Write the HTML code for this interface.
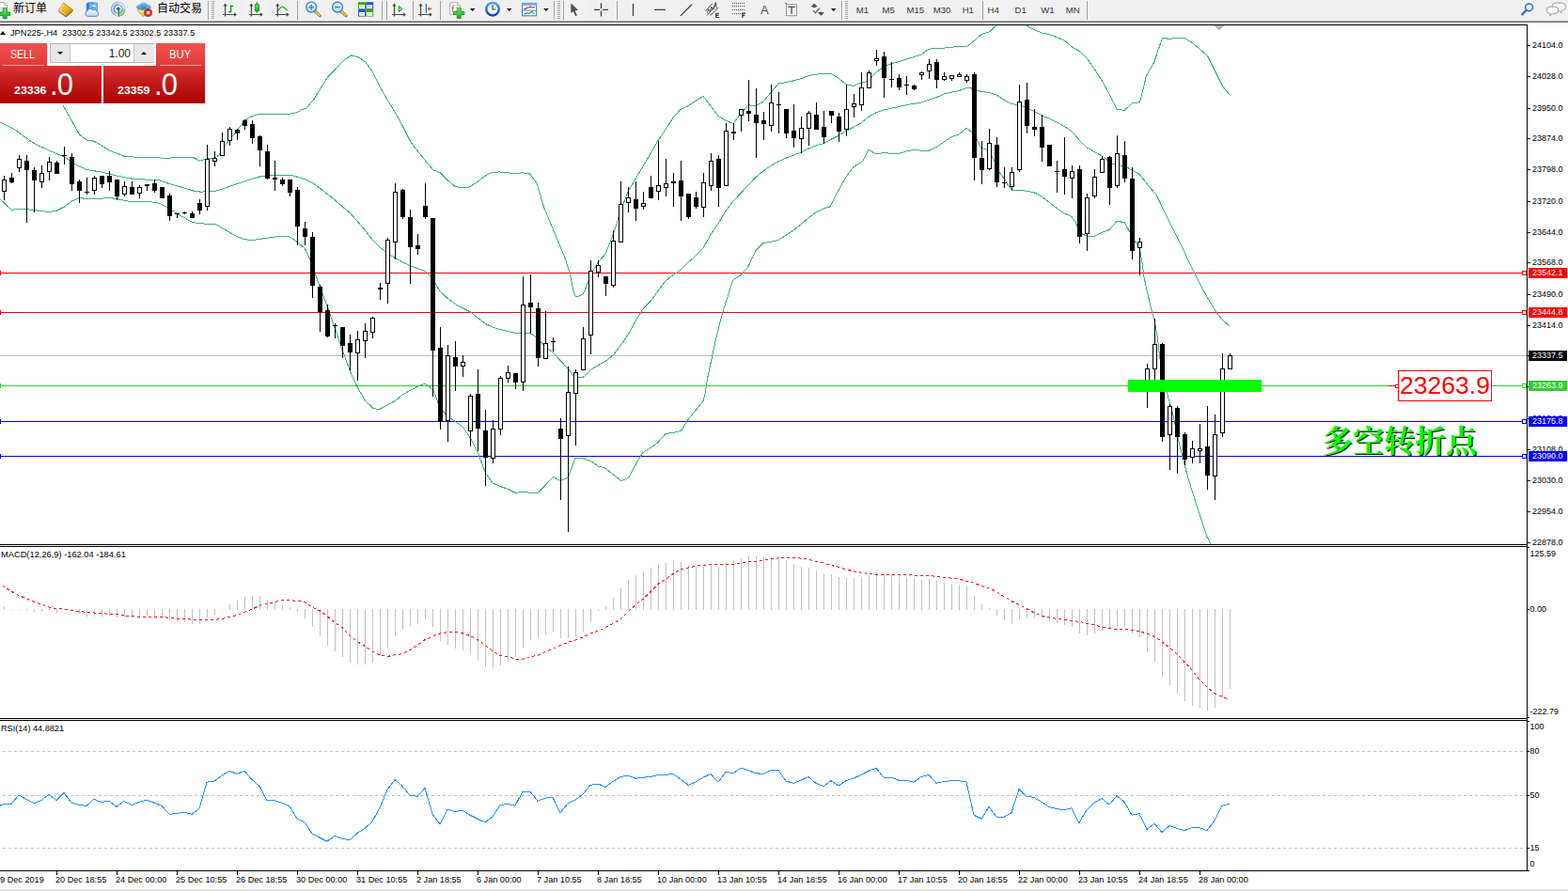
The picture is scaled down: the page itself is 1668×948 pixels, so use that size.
<!DOCTYPE html><html><head><meta charset="utf-8"><title>JPN225 H4</title><style>
html,body{margin:0;padding:0}
body{width:1668px;height:948px;overflow:hidden;background:#fff;position:relative;font-family:"Liberation Sans",sans-serif;font-size:9px;color:#000}
.a{position:absolute;white-space:nowrap;line-height:1}
.ax{position:absolute;left:1630px;font-size:9px;line-height:11px;height:11px;white-space:nowrap}
.pl{position:absolute;left:1626px;width:41px;height:11px;font-size:9px;line-height:11px;color:#fff;white-space:nowrap;text-indent:4px}
.tl{position:absolute;top:931px;font-size:9.15px;line-height:11px;white-space:nowrap}
.tf{position:absolute;top:6px;font-size:9.6px;line-height:10px;color:#333;white-space:nowrap}
#tb{position:absolute;left:0;top:0;width:1668px;height:22px;background:#f0f0f0}
.sep{position:absolute;top:2px;width:1px;height:19px;background:#a0a0a0;box-shadow:1px 0 0 #fff}
.grip{position:absolute;top:3px;width:3px;height:17px;background:repeating-linear-gradient(to bottom,#a0a0a0 0,#a0a0a0 1px,transparent 1px,transparent 2px)}
.dd{position:absolute;top:9px;width:0;height:0;border-left:3px solid transparent;border-right:3px solid transparent;border-top:3px solid #000}
.sel{position:absolute;top:0;height:21px;background:#f8f8f8;border:1px solid #d8d8d8;box-sizing:border-box}
</style></head><body>
<svg id="chart" width="1668" height="948" viewBox="0 0 1668 948" style="position:absolute;left:0;top:0" shape-rendering="crispEdges">
<defs><clipPath id="cm"><rect x="0" y="27" width="1624" height="552"/></clipPath><clipPath id="cd"><rect x="0" y="582" width="1624" height="182"/></clipPath><clipPath id="cr"><rect x="0" y="767" width="1624" height="159"/></clipPath></defs>
<g clip-path="url(#cm)">
<path d="M0 378.5H1624" stroke="#c0c0c0" fill="none"/>
<path d="M0 290.5H1624M0 332.5H1624" stroke="#ff0000" fill="none"/>
<path d="M0 410.5H1477M1587 410.5H1624" stroke="#32cd32" fill="none"/>
<path d="M0 448.5H1624M0 485.5H1624" stroke="#0000ff" fill="none"/>
<path d="M67.2 112.2 76.8 129.2 84.5 143.2 92.5 149.1 100.4 150.3 108.6 155.1 116.5 160.2 124.5 163.2 132.5 166.4 146.2 167.3 162.5 167.6 177.3 168.3 192 167.3 205.3 167.3 212.6 171.3 218.6 169.1 228.5 168.3 233.4 164.7 236.4 158.7 244.4 148.4 252.5 138.1 260.5 128.5 266 124.5 274.8 121.5 292.6 121.5 308.8 121.1 316.5 119.6 320 117.1 326.1 115 333.8 105.8 341.4 93.5 349.1 81.3 356.7 73.7 365.9 63.9 373.5 59 381.2 60.8 388.8 66 396.5 76.7 404.1 92 411.8 105.8 419.4 118 427.1 131.8 436.3 150.2 445.5 162.4 453.1 171.6 460.8 180.8 468.4 183.8 476.1 191.5 483.7 198.2 491.4 200 499 199.1 506.7 194.5 514.3 188.4 522 183.8 531.1 182.9 540.3 183.8 548 184.7 555.6 183.8 563.3 184.7 570.9 194.5 578.6 220.5 586.2 238.9 593.9 257.3 601.5 275.6 606.1 290.9 609.2 306.2 612.4 316 616 315 620 313.2 624 304.3 628 293.5 636 279.1 644 270.2 652 250.4 660 225.3 668 203.8 676 190.4 684 176.9 692 163.5 700 149.6 708 137.9 716 125.3 724 116.4 732 112.8 740 107.4 748 102.4 756 112.8 764 123.5 772 128 780 131.6 788 120.9 796 111.9 804 112.4 812 108.3 820 98.4 828 89.1 836 87.7 844 85.9 852 83.7 860 80.5 868 79.1 876 78.7 884 78.3 892 83.2 900 89.8 908 91.3 916 87.9 921.2 87 924 85.7 932 76.8 940 71.4 948 67.8 956 65.7 964 63 972 60.6 980 57.9 988 52.2 996 51.3 1004 51.1 1012 50.2 1020 49.5 1029.3 49 1036.2 43.5 1044.4 36.2 1052.5 33.9 1059.4 27.4 1064 22 1076 18 1088 22 1092.4 27.4 1100 31.6 1108.2 35.1 1116.1 36.7 1124.4 39.7 1132.5 43.2 1140.6 50.2 1148.8 54.8 1156.9 62.9 1165 74.5 1173.1 87.3 1180.1 100 1188.2 116.3 1196.3 117.4 1204.5 109.3 1212.6 108.9 1219.5 80.3 1227.7 66.4 1232.3 52.5 1236.5 40.4 1243.9 41.3 1252 40.4 1260.1 40.4 1268.3 45.5 1275.2 51.3 1284.5 59.4 1292.6 75.7 1300.7 91.9 1307.7 100.7" stroke="#3cb371" fill="none" stroke-width="1"/>
<path d="M0 129.9 14.8 137.3 36.5 152.8 52.4 160.2 68.4 166.9 79.8 175 92.5 180.6 108.6 183.1 124.5 187.1 140.5 190.2 156.6 191.2 169.9 192 180.5 195.7 196.5 200.1 206.8 203.4 214.2 204.2 220.5 203.4 228.5 203.1 232 202.8 244.4 198.3 252.5 195.4 260.5 192.7 268.5 190.2 276.5 188 284.4 186.8 292.6 186.4 300.4 186.4 310.3 186.4 316.5 188.3 324.5 190.9 332.4 194.5 340.6 200.4 348.5 206.8 356.5 213 364.5 220 372.5 226.7 380.4 235.6 388.6 245.5 396.5 255.5 404.5 263.6 412.5 269.5 420.5 274.7 428.5 279.1 436.6 282.8 444.6 285.8 452.5 288.7 458 293.9 463.9 302.9 468.4 310.3 476.4 317.7 484.5 323.6 492.5 328 500.5 332 508.5 338.3 516.4 344.5 524.6 348.4 532.4 350.6 540.4 352.7 548.5 354.3 556.5 354.3 564.4 354.3 572.6 360.5 580.5 369.4 588.5 375.3 596.5 384.1 604.5 392.3 610.2 400.4 616.1 401.9 620.6 401.1 628.5 393.4 636.5 388.6 644.5 384.1 652.5 377.5 660.5 367.1 668.6 355.3 676.6 340.6 684.5 328 692.5 319.9 700 309.6 708 298.9 716 292.6 724 287.2 732 279.1 740 272.3 748 263.9 756 249.6 764 237.9 772 224.4 780 214 788 205.5 796 197 804 188.5 812 182 820 176.5 828 171.8 836 168.2 844 165.4 852 162.1 860 158.2 868 154.9 876 152.6 884 148.3 892 144.2 900 139.3 908 135.2 916 130.9 924 124.3 932 119.8 940 117.1 948 115.3 956 113.5 964 111.7 972 110.3 980 109.1 988 106.4 996 103.7 1004 100.1 1012 98.3 1020 96.5 1028 93.8 1032.4 93.5 1036 95.2 1044 97.4 1052 98.3 1060 101 1068 106.4 1076 110.5 1084 111.7 1092 114.4 1100 118.6 1108 122.5 1116 126.1 1124 129.9 1132 134.4 1140 139.8 1148 148.8 1156 156.9 1164 161.4 1172 165.9 1176.1 168.6 1180 173 1188 175.7 1196 176.3 1204 181.1 1212 185.2 1220 195.5 1229.9 207.1 1236 219.7 1244 235.8 1252 252 1260 268.1 1265.3 280 1270.7 289.9 1276.1 301.5 1284 315.9 1292 329.3 1300 340.1 1307.5 346.7" stroke="#3cb371" fill="none" stroke-width="1"/>
<path d="M0 211.9 12.4 223.4 20.5 222.3 28.5 222.6 36.5 223.7 52.4 225.5 60.6 224 68.4 220 76.4 214.1 84.5 210.4 92.5 211.6 108.6 211.2 116.5 210.4 124.5 211.6 140.5 214.9 156.6 214.4 166.9 215.6 172.5 217.5 180.5 222.3 188.5 227.4 196.5 231.9 204.6 236.3 212.6 237.8 228.5 238.5 232 240 244.4 247.4 252.5 251.8 260.5 254.8 268.5 255.5 276.5 254.3 284.4 253.3 292.6 252.1 300.4 251.1 308.4 252.1 316.5 257.7 324.5 264.4 329.5 275.5 335.4 291.7 340.6 305.7 348.5 327.1 356.5 350 364.5 373.2 372.5 395.4 380.4 412.4 388.6 426.4 396.5 434.1 403.3 435.7 412.5 430.8 420.5 426.4 428.5 419.8 436.6 415.3 444.6 410.9 452.1 408.2 458 412.4 462.4 418.3 465 426 468 434.1 476 443 484 448.4 492 453.8 500 465.5 508 480.7 516 502.2 524 513.9 532 517.5 540 520.2 548 524.3 556 523.4 564.4 524.3 572.5 524.3 580.6 515.7 588.7 507.3 596 511.6 604 508.2 612 487.5 620 487.9 628.1 490.2 636.2 496 643.4 497.8 652.3 504.9 660.8 511.6 668.5 508.5 676.6 493.3 683.7 481.6 692.7 476.2 700 470.5 708.1 461.4 716.1 460.4 724.5 458.4 732.1 446.4 740.2 436.4 748.2 426.3 750.2 418.3 752.2 404.3 755.2 390.3 758.2 376.2 761.2 362.2 764.2 350.2 767.2 338.1 771.2 324.1 775.2 312.1 778.2 302 780.3 297.5 788 292.6 796 283.6 804 266.6 812 258.5 820 257.3 828 255.5 836 250.4 844 245.1 852 238.8 860 232 868 226 876 222 882.8 220 892 202.5 900 188.1 908 177.4 916 172.9 917.6 171.8 924 159.3 932 164.1 940 162.3 948 163.4 956 163.4 964 161.1 972 159.3 980 160.2 988 160.2 996 156.6 1004 151.2 1012 145.8 1020 143.1 1028 136.5 1032.4 139.6 1036 142.2 1039.6 149.4 1044 157.5 1052 159.8 1057.5 170.9 1063.8 184.4 1068 189.8 1071.8 196.1 1076 202.3 1084 202.3 1092 203.2 1100 204.7 1108 209 1116 215.2 1124 221.5 1132 226.9 1140 230.4 1143.8 235.8 1148 244.8 1151.9 249.3 1156 251.1 1164 251.6 1172 247.5 1180 244.4 1188 235.5 1196 236.4 1201.2 245.7 1206.6 255.6 1212 262.7 1215.1 280 1216.9 294.3 1220 308.7 1224.1 326.6 1228 341 1231.3 358.9 1233.9 381.3 1238 400 1241.1 417.2 1244 427 1248.3 443.2 1252 462 1256.4 480 1260 494.3 1263.5 506.9 1268 522.1 1276 547.2 1284 571.4 1287.8 578.6" stroke="#3cb371" fill="none" stroke-width="1"/>
<path d="M4 187h1v26h-1zM2 191h5v13h-5zM12 184h1v11h-1zM10 189h5v5h-5zM20 165h1v18h-1zM18 169h5v10h-5zM28 165h1v72h-1zM26 171h5v10h-5zM36 178h1v48h-1zM34 181h5v11h-5zM44 176h1v24h-1zM42 184h5v10h-5zM52 167h1v25h-1zM50 172h5v11h-5zM60 171h1v14h-1zM58 173h5v12h-5zM68 156h1v19h-1zM66 165h5v1h-5zM76 163h1v40h-1zM74 167h5v29h-5zM84 191h1v25h-1zM82 193h5v10h-5zM92 189h1v18h-1zM90 204h5v1h-5zM100 187h1v20h-1zM98 189h5v14h-5zM108 187h1v13h-1zM106 187h5v9h-5zM116 182h1v21h-1zM114 187h5v7h-5zM124 191h1v22h-1zM122 191h5v18h-5zM132 193h1v16h-1zM130 198h5v9h-5zM140 193h1v14h-1zM138 199h5v8h-5zM148 197h1v14h-1zM146 199h5v7h-5zM156 196h1v7h-1zM154 196h5v2h-5zM164 191h1v14h-1zM162 195h5v8h-5zM172 199h1v12h-1zM170 199h5v12h-5zM180 206h1v29h-1zM178 208h5v22h-5zM188 227h1v5h-1zM186 227h5v1h-5zM196 225h1v3h-1zM194 226h5v1h-5zM204 225h1v7h-1zM202 227h5v5h-5zM212 212h1v16h-1zM210 216h5v8h-5zM220 154h1v70h-1zM218 169h5v51h-5zM228 161h1v16h-1zM226 168h5v4h-5zM236 141h1v25h-1zM234 150h5v16h-5zM244 135h1v20h-1zM242 137h5v13h-5zM252 137h1v12h-1zM250 138h5v4h-5zM260 127h1v11h-1zM258 128h5v6h-5zM268 128h1v25h-1zM266 132h5v15h-5zM276 144h1v33h-1zM274 145h5v15h-5zM284 154h1v37h-1zM282 161h5v29h-5zM292 171h1v32h-1zM290 189h5v2h-5zM300 189h1v9h-1zM298 191h5v5h-5zM308 191h1v18h-1zM306 191h5v14h-5zM316 199h1v62h-1zM314 202h5v39h-5zM324 236h1v25h-1zM322 243h5v9h-5zM332 247h1v70h-1zM330 252h5v52h-5zM340 303h1v50h-1zM338 305h5v27h-5zM348 324h1v35h-1zM346 330h5v28h-5zM356 344h1v16h-1zM354 346h5v1h-5zM364 348h1v33h-1zM362 348h5v20h-5zM372 356h1v38h-1zM370 365h5v10h-5zM380 352h1v53h-1zM378 361h5v15h-5zM388 344h1v37h-1zM386 352h5v11h-5zM396 337h1v23h-1zM394 338h5v16h-5zM404 301h1v18h-1zM402 306h5v2h-5zM412 253h1v70h-1zM410 255h5v47h-5zM420 195h1v81h-1zM418 204h5v54h-5zM428 201h1v32h-1zM426 202h5v29h-5zM436 223h1v79h-1zM434 231h5v32h-5zM444 249h1v22h-1zM442 261h5v4h-5zM452 195h1v38h-1zM450 219h5v12h-5zM460 232h1v190h-1zM458 232h5v141h-5zM468 348h1v109h-1zM466 370h5v79h-5zM476 367h1v103h-1zM474 378h5v70h-5zM484 363h1v53h-1zM482 380h5v10h-5zM492 378h1v23h-1zM490 385h5v5h-5zM500 419h1v56h-1zM498 421h5v38h-5zM508 393h1v87h-1zM506 419h5v37h-5zM516 436h1v81h-1zM514 458h5v29h-5zM524 447h1v46h-1zM522 456h5v32h-5zM532 400h1v63h-1zM530 402h5v55h-5zM540 389h1v18h-1zM538 396h5v7h-5zM548 397h1v17h-1zM546 397h5v10h-5zM556 294h1v122h-1zM554 324h5v83h-5zM564 292h1v63h-1zM562 322h5v5h-5zM572 322h1v68h-1zM570 328h5v53h-5zM580 331h1v51h-1zM578 365h5v17h-5zM588 359h1v15h-1zM586 363h5v1h-5zM596 445h1v87h-1zM594 456h5v11h-5zM604 390h1v176h-1zM602 417h5v47h-5zM612 393h1v81h-1zM610 396h5v23h-5zM620 348h1v46h-1zM618 360h5v34h-5zM628 277h1v100h-1zM626 288h5v69h-5zM636 277h1v18h-1zM634 282h5v8h-5zM644 294h1v21h-1zM642 294h5v8h-5zM652 245h1v61h-1zM650 256h5v48h-5zM660 193h1v65h-1zM658 217h5v41h-5zM668 199h1v27h-1zM666 210h5v6h-5zM676 193h1v42h-1zM674 212h5v10h-5zM684 204h1v19h-1zM682 216h5v4h-5zM692 187h1v24h-1zM690 199h5v12h-5zM700 150h1v63h-1zM698 197h5v7h-5zM708 169h1v40h-1zM706 195h5v5h-5zM716 184h1v36h-1zM714 193h5v2h-5zM724 171h1v64h-1zM722 192h5v17h-5zM732 206h1v27h-1zM730 206h5v25h-5zM740 204h1v18h-1zM738 210h5v10h-5zM748 184h1v47h-1zM746 194h5v27h-5zM756 163h1v40h-1zM754 171h5v27h-5zM764 165h1v55h-1zM762 169h5v31h-5zM772 131h1v67h-1zM770 139h5v59h-5zM780 131h1v18h-1zM778 140h5v2h-5zM788 116h1v24h-1zM786 116h5v7h-5zM796 85h1v44h-1zM794 118h5v3h-5zM804 94h1v74h-1zM802 122h5v9h-5zM812 119h1v30h-1zM810 128h5v4h-5zM820 90h1v50h-1zM818 109h5v25h-5zM828 98h1v44h-1zM826 111h5v1h-5zM836 116h1v31h-1zM834 116h5v26h-5zM844 111h1v46h-1zM842 139h5v8h-5zM852 124h1v39h-1zM850 136h5v12h-5zM860 118h1v37h-1zM858 120h5v17h-5zM868 109h1v29h-1zM866 122h5v16h-5zM876 118h1v35h-1zM874 135h5v11h-5zM884 118h1v13h-1zM882 118h5v5h-5zM892 120h1v31h-1zM890 124h5v16h-5zM900 90h1v55h-1zM898 116h5v22h-5zM908 100h1v25h-1zM906 110h5v4h-5zM916 77h1v41h-1zM914 93h5v19h-5zM924 75h1v19h-1zM922 77h5v17h-5zM932 53h1v17h-1zM930 62h5v3h-5zM940 55h1v49h-1zM938 60h5v23h-5zM948 66h1v27h-1zM946 84h5v1h-5zM956 79h1v17h-1zM954 83h5v10h-5zM964 81h1v20h-1zM962 90h5v1h-5zM972 90h1v6h-1zM970 91h5v4h-5zM980 76h1v9h-1zM978 77h5v3h-5zM988 63h1v21h-1zM986 68h5v8h-5zM996 63h1v31h-1zM994 66h5v19h-5zM1004 77h1v9h-1zM1002 81h5v4h-5zM1012 80h1v6h-1zM1010 80h5v4h-5zM1020 77h1v5h-1zM1018 79h5v3h-5zM1028 79h1v9h-1zM1026 81h5v5h-5zM1036 77h1v115h-1zM1034 79h5v89h-5zM1044 150h1v46h-1zM1042 168h5v13h-5zM1052 137h1v44h-1zM1050 152h5v28h-5zM1060 146h1v53h-1zM1058 154h5v40h-5zM1068 178h1v22h-1zM1066 194h5v1h-5zM1076 178h1v24h-1zM1074 183h5v16h-5zM1084 90h1v93h-1zM1082 108h5v73h-5zM1092 88h1v54h-1zM1090 106h5v28h-5zM1100 116h1v29h-1zM1098 135h5v3h-5zM1108 122h1v50h-1zM1106 135h5v22h-5zM1116 154h1v23h-1zM1114 154h5v23h-5zM1124 171h1v34h-1zM1122 182h5v1h-5zM1132 146h1v61h-1zM1130 180h5v8h-5zM1140 176h1v35h-1zM1138 182h5v8h-5zM1148 176h1v83h-1zM1146 180h5v72h-5zM1156 206h1v61h-1zM1154 210h5v39h-5zM1164 180h1v31h-1zM1162 188h5v21h-5zM1172 166h1v18h-1zM1170 169h5v15h-5zM1180 166h1v52h-1zM1178 167h5v33h-5zM1188 144h1v56h-1zM1186 163h5v35h-5zM1196 150h1v44h-1zM1194 165h5v25h-5zM1204 178h1v98h-1zM1202 190h5v77h-5zM1212 253h1v40h-1zM1210 257h5v7h-5zM1220 387h1v47h-1zM1218 392h5v24h-5zM1228 339h1v71h-1zM1226 366h5v27h-5zM1236 365h1v105h-1zM1234 366h5v99h-5zM1244 430h1v70h-1zM1242 432h5v31h-5zM1252 432h1v72h-1zM1250 434h5v31h-5zM1260 460h1v35h-1zM1258 462h5v27h-5zM1268 469h1v24h-1zM1266 477h5v10h-5zM1276 451h1v42h-1zM1274 477h5v3h-5zM1284 432h1v89h-1zM1282 475h5v31h-5zM1292 441h1v91h-1zM1290 462h5v45h-5zM1300 376h1v89h-1zM1298 392h5v69h-5zM1308 376h1v17h-1zM1306 378h5v15h-5z" fill="#000"/>
<path d="M3 192h3v11h-3zM19 170h3v8h-3zM43 185h3v8h-3zM51 173h3v9h-3zM99 190h3v12h-3zM131 199h3v7h-3zM147 200h3v5h-3zM219 170h3v49h-3zM227 169h3v2h-3zM235 151h3v14h-3zM243 138h3v11h-3zM379 362h3v13h-3zM387 353h3v9h-3zM395 339h3v14h-3zM411 256h3v45h-3zM419 205h3v52h-3zM475 379h3v68h-3zM491 386h3v3h-3zM499 422h3v36h-3zM523 457h3v30h-3zM531 403h3v53h-3zM539 397h3v5h-3zM555 325h3v81h-3zM579 366h3v15h-3zM603 418h3v45h-3zM611 397h3v21h-3zM619 361h3v32h-3zM627 289h3v67h-3zM635 283h3v6h-3zM651 257h3v46h-3zM659 218h3v39h-3zM667 211h3v4h-3zM683 217h3v2h-3zM699 198h3v5h-3zM707 196h3v3h-3zM747 195h3v25h-3zM755 172h3v25h-3zM771 140h3v57h-3zM787 117h3v5h-3zM819 110h3v23h-3zM851 137h3v10h-3zM859 121h3v15h-3zM899 117h3v20h-3zM907 111h3v2h-3zM915 94h3v17h-3zM923 78h3v15h-3zM931 63h3v1h-3zM979 78h3v1h-3zM987 69h3v6h-3zM1003 82h3v2h-3zM1011 81h3v2h-3zM1019 80h3v1h-3zM1027 82h3v3h-3zM1051 153h3v26h-3zM1075 184h3v14h-3zM1083 109h3v71h-3zM1139 183h3v6h-3zM1155 211h3v37h-3zM1163 189h3v19h-3zM1171 170h3v13h-3zM1187 164h3v33h-3zM1211 258h3v5h-3zM1219 393h3v22h-3zM1227 367h3v25h-3zM1243 433h3v29h-3zM1267 478h3v8h-3zM1275 478h3v1h-3zM1291 463h3v43h-3zM1299 393h3v67h-3zM1307 379h3v13h-3z" fill="#fff"/>
<rect x="0" y="288" width="1" height="5" fill="#ff0000"/>
<rect x="0" y="330" width="1" height="5" fill="#ff0000"/>
<rect x="0" y="408" width="1" height="5" fill="#32cd32"/>
<rect x="0" y="446" width="1" height="5" fill="#0000ff"/>
<rect x="0" y="483" width="1" height="5" fill="#0000ff"/>
<rect x="1200" y="404" width="142" height="13" fill="#00ff00"/>
<path d="M1291 27h11l-5.5 5.5z" fill="#b4b4b4"/>
</g>
<g clip-path="url(#cd)">
<path d="M4 645h1v4h-1zM12 648h1v1h-1zM20 648h1v1h-1zM28 648h1v1h-1zM36 648h1v3h-1zM44 648h1v3h-1zM52 647h1v2h-1zM60 648h1v4h-1zM68 648h1v1h-1zM76 648h1v1h-1zM84 648h1v5h-1zM92 648h1v8h-1zM100 648h1v8h-1zM108 648h1v8h-1zM116 648h1v7h-1zM124 648h1v9h-1zM132 648h1v9h-1zM140 648h1v9h-1zM148 648h1v9h-1zM156 648h1v9h-1zM164 648h1v9h-1zM172 648h1v10h-1zM180 648h1v12h-1zM188 648h1v14h-1zM196 648h1v14h-1zM204 648h1v16h-1zM212 648h1v16h-1zM220 648h1v9h-1zM228 648h1v6h-1zM236 648h1v1h-1zM244 643h1v6h-1zM252 639h1v10h-1zM260 635h1v14h-1zM268 634h1v15h-1zM276 634h1v15h-1zM284 638h1v11h-1zM292 641h1v8h-1zM300 643h1v6h-1zM308 646h1v3h-1zM316 648h1v3h-1zM324 648h1v10h-1zM332 648h1v19h-1zM340 648h1v29h-1zM348 648h1v39h-1zM356 648h1v45h-1zM364 648h1v51h-1zM372 648h1v57h-1zM380 648h1v59h-1zM388 648h1v59h-1zM396 648h1v57h-1zM404 648h1v50h-1zM412 648h1v42h-1zM420 648h1v29h-1zM428 648h1v21h-1zM436 648h1v18h-1zM444 648h1v15h-1zM452 648h1v10h-1zM460 648h1v19h-1zM468 648h1v34h-1zM476 648h1v38h-1zM484 648h1v42h-1zM492 648h1v44h-1zM500 648h1v48h-1zM508 648h1v55h-1zM516 648h1v61h-1zM524 648h1v63h-1zM532 648h1v60h-1zM540 648h1v56h-1zM548 648h1v51h-1zM556 648h1v41h-1zM564 648h1v33h-1zM572 648h1v30h-1zM580 648h1v27h-1zM588 648h1v24h-1zM596 648h1v31h-1zM604 648h1v31h-1zM612 648h1v29h-1zM620 648h1v24h-1zM628 648h1v13h-1zM636 648h1v2h-1zM644 645h1v4h-1zM652 636h1v13h-1zM660 626h1v23h-1zM668 617h1v32h-1zM676 612h1v37h-1zM684 608h1v41h-1zM692 604h1v45h-1zM700 601h1v48h-1zM708 599h1v50h-1zM716 597h1v52h-1zM724 598h1v51h-1zM732 601h1v48h-1zM740 603h1v46h-1zM748 603h1v46h-1zM756 602h1v47h-1zM764 603h1v46h-1zM772 599h1v50h-1zM780 597h1v52h-1zM788 594h1v55h-1zM796 592h1v57h-1zM804 592h1v57h-1zM812 593h1v56h-1zM820 592h1v57h-1zM828 592h1v57h-1zM836 596h1v53h-1zM844 600h1v49h-1zM852 603h1v46h-1zM860 604h1v45h-1zM868 607h1v42h-1zM876 610h1v39h-1zM884 611h1v38h-1zM892 614h1v35h-1zM900 615h1v34h-1zM908 615h1v34h-1zM916 614h1v35h-1zM924 612h1v37h-1zM932 609h1v40h-1zM940 610h1v39h-1zM948 611h1v38h-1zM956 612h1v37h-1zM964 614h1v35h-1zM972 616h1v33h-1zM980 617h1v32h-1zM988 616h1v33h-1zM996 618h1v31h-1zM1004 620h1v29h-1zM1012 621h1v28h-1zM1020 622h1v27h-1zM1028 624h1v25h-1zM1036 634h1v15h-1zM1044 643h1v6h-1zM1052 647h1v2h-1zM1060 648h1v7h-1zM1068 648h1v12h-1zM1076 648h1v16h-1zM1084 648h1v11h-1zM1092 648h1v10h-1zM1100 648h1v9h-1zM1108 648h1v10h-1zM1116 648h1v13h-1zM1124 648h1v15h-1zM1132 648h1v17h-1zM1140 648h1v19h-1zM1148 648h1v26h-1zM1156 648h1v28h-1zM1164 648h1v26h-1zM1172 648h1v23h-1zM1180 648h1v22h-1zM1188 648h1v19h-1zM1196 648h1v19h-1zM1204 648h1v26h-1zM1212 648h1v30h-1zM1220 648h1v46h-1zM1228 648h1v56h-1zM1236 648h1v72h-1zM1244 648h1v81h-1zM1252 648h1v90h-1zM1260 648h1v98h-1zM1268 648h1v103h-1zM1276 648h1v105h-1zM1284 648h1v108h-1zM1292 648h1v105h-1zM1300 648h1v95h-1zM1308 648h1v85h-1z" fill="#c0c0c0"/>
<path d="M2.5 622.8 10.1 628.1 20.2 633.6 28 636.9 36 640.4 44.1 643 52.1 646.2 60.2 647.5 68 648.2 76.1 649.3 84.1 650.5 92.2 651.3 100.3 652 108.1 652.5 116.1 653.3 124.2 653.8 132.2 655 140.3 655.8 148.4 656.3 156.2 656.3 164.2 656.3 172.3 656.3 180.4 657.6 188.4 658.3 196.2 658.3 204.3 659.3 212.3 659.3 220.4 659.3 228.5 659.3 236.3 658.3 244.3 656.6 252.4 654.5 260.5 651.3 268.5 648 276.3 644.2 284.4 642.5 292.4 640.4 300.5 638.7 308.6 638.7 316.6 639.4 324.4 640.7 332.5 646.2 340.6 650 348.6 656.3 356.4 662.6 364.5 668.1 372.5 676.5 380.6 682.8 388.7 687.8 396.7 693.3 404.8 697.4 412.6 698.4 420 696.9 426.1 696.1 436.2 691.6 444 686.5 452 680.7 460.1 677.2 468.1 673.9 476.2 672.7 484 672.2 492.1 673.9 500.1 676.5 508.2 680.7 516.3 686.5 524.1 692.8 532.1 697.4 540.2 698.6 548.2 701.1 556.3 701.1 564.4 698.6 572.2 697.4 580.2 693.6 588.3 690.3 596.4 686.5 604.4 683.3 612.2 681 620.3 677.7 628.3 673.9 636.4 671.4 644.5 667.1 652.3 663.4 660.3 658.8 668.4 650.5 676.5 643.2 684.5 636.9 692.3 629.1 700.4 621 708.4 616 716.5 610.2 724.6 605.4 732.6 603.9 740.4 602.2 748.5 601.4 756.6 600.4 764.6 600.4 772.4 600.4 780.5 600.1 788.5 599.1 796.6 597.9 804.7 597.1 812.7 595.9 820.8 594.6 828.6 593.8 836 593.3 844.1 593.3 852.2 594.1 860 595.1 868 597.6 876.1 599.1 884.1 601.4 892.2 603.4 900 605.9 908.1 607.9 916.1 609.2 924.2 610.5 932.3 611.5 940.1 611.5 948.1 611.5 956.2 611.5 964.2 611.5 972.3 612.2 980.4 612.2 988.2 612.2 996.2 613.5 1004.3 614.2 1012.4 615.2 1020.4 616 1028.2 618.5 1036.3 620.3 1044.3 623.6 1052.4 626.1 1060.5 629.9 1068.3 634.9 1076.3 639.9 1084.4 643.7 1092.5 648 1100.5 652 1108.3 655.6 1116.4 657.1 1124.4 658.3 1132.5 659.6 1140.6 660.6 1148.6 661.3 1156.4 663.4 1164.5 664.6 1172.6 667.6 1180.6 668.4 1188.4 669.4 1196.5 669.4 1204.5 670.7 1212.6 671.4 1219.9 674.4 1228 677.2 1236 682.8 1244.1 689.1 1251.9 695.9 1259.9 704.2 1268 713 1276.1 723.1 1284.1 731.1 1291.9 737.7 1300 741.2 1308.1 745" stroke="#ff0000" fill="none" stroke-dasharray="3 3"/>
</g>
<g clip-path="url(#cr)">
<path d="M3 799.5H1624M3 846.5H1624M3 902.5H1624" stroke="#c0c0c0" stroke-dasharray="3 3" fill="none"/>
<path d="M0 857.2 4 855.4 12 855.4 20 845.8 28 850.4 36 854.7 44 851.6 52 845.3 60 851.6 68 843.6 76 854.2 84 856.2 92 857.4 100 850.4 108 853.4 116 852.4 124 858.4 132 852.4 140 856.7 148 853.4 156 851.1 164 854.2 172 857.4 180 866.3 188 865.5 196 864.2 204 866.3 212 860.5 220 832.2 228 831 236 825.2 244 820.2 252 823.4 260 820.2 268 829.5 276 836.5 284 851.6 292 851.6 300 854.2 308 857.9 316 871.3 324 874.8 332 886.9 340 891.2 348 895.2 356 889.4 364 892.4 372 893.7 380 886.4 388 881.4 396 874.3 404 859.2 412 840.3 420 829.5 428 836.5 436 846.1 444 847.4 452 838.5 460 866.3 468 876.8 476 861.2 484 863.5 492 862.2 500 867.3 508 871.3 516 875.1 524 868.8 532 856.7 540 855.4 548 857.2 556 842.1 564 842.1 572 852.4 580 849.1 588 848.4 596 865 604 854.9 612 850.9 620 845.3 628 835.3 636 834 644 837.3 652 831.5 660 826.5 668 825.2 676 828.2 684 827.2 692 826.5 700 824.4 708 824.4 716 823.4 724 829 732 835.3 740 832 748 827.2 756 823.4 764 832.2 772 821.4 780 822.7 788 817.1 796 819.7 804 822.7 812 823.4 820 819.4 828 819.4 836 831 844 833.3 852 830.2 860 826.5 868 833.3 876 836.5 884 830.7 892 836 900 830.7 908 828.2 916 824.4 924 820.2 932 817.1 940 827.2 948 827.2 956 830.2 964 830.2 972 832.2 980 826.5 988 824.4 996 833.3 1004 831.5 1012 830.7 1020 830.7 1028 832 1036 867.3 1044 871.3 1052 858.4 1060 869.3 1068 869.3 1076 864.7 1084 839.6 1092 847.1 1100 848.6 1108 853.4 1116 858.4 1124 860.5 1132 861.7 1140 859.7 1148 875.6 1156 861.7 1164 854.2 1172 849.6 1180 856.2 1188 846.6 1196 853.4 1204 867.3 1212 865.5 1220 882.4 1228 876.3 1236 885.6 1244 878.6 1252 881.4 1260 883.6 1268 880.6 1276 880.6 1284 883.6 1292 873.1 1300 857.2 1308 855.4" stroke="#1e90ff" fill="none"/>
</g>
<path d="M0 26h1625v1H0zM1624 26h1v901h-1zM0 579h1625v1H0zM0 581h1625v1H0zM0 764h1625v1H0zM0 766h1625v1H0zM0 926h1625v1H0zM1625 48h3v1h-3zM1625 81h3v1h-3zM1625 115h3v1h-3zM1625 147h3v1h-3zM1625 180h3v1h-3zM1625 214h3v1h-3zM1625 247h3v1h-3zM1625 279h3v1h-3zM1625 313h3v1h-3zM1625 346h3v1h-3zM1625 378h3v1h-3zM1625 411h3v1h-3zM1625 445h3v1h-3zM1625 478h3v1h-3zM1625 511h3v1h-3zM1625 544h3v1h-3zM1625 577h3v1h-3zM1625 582h2v1h-2zM1625 648h2v1h-2zM1625 763h2v1h-2zM1625 767h2v1h-2zM1625 799h2v1h-2zM1625 846h2v1h-2zM1625 902h2v1h-2zM1625 926h2v1h-2zM60 927h1v4h-1zM124 927h1v4h-1zM188 927h1v4h-1zM252 927h1v4h-1zM316 927h1v4h-1zM380 927h1v4h-1zM444 927h1v4h-1zM508 927h1v4h-1zM572 927h1v4h-1zM636 927h1v4h-1zM700 927h1v4h-1zM764 927h1v4h-1zM828 927h1v4h-1zM892 927h1v4h-1zM956 927h1v4h-1zM1020 927h1v4h-1zM1084 927h1v4h-1zM1148 927h1v4h-1zM1212 927h1v4h-1zM1276 927h1v4h-1z" fill="#000"/>
</svg>
<div class="ax" style="top:43px">24104.0</div>
<div class="ax" style="top:76px">24028.0</div>
<div class="ax" style="top:110px">23950.0</div>
<div class="ax" style="top:142px">23874.0</div>
<div class="ax" style="top:175px">23798.0</div>
<div class="ax" style="top:209px">23720.0</div>
<div class="ax" style="top:242px">23644.0</div>
<div class="ax" style="top:274px">23568.0</div>
<div class="ax" style="top:308px">23490.0</div>
<div class="ax" style="top:341px">23414.0</div>
<div class="ax" style="top:373px">23338.0</div>
<div class="ax" style="top:406px">23262.0</div>
<div class="ax" style="top:440px">23184.0</div>
<div class="ax" style="top:473px">23108.0</div>
<div class="ax" style="top:506px">23030.0</div>
<div class="ax" style="top:539px">22954.0</div>
<div class="ax" style="top:572px">22878.0</div>
<div class="ax" style="top:584px;left:1627.6px">125.59</div>
<div class="ax" style="top:643px;left:1627.6px">0.00</div>
<div class="ax" style="top:752px;left:1627.6px">-222.79</div>
<div class="ax" style="top:768px;left:1627.6px">100</div>
<div class="ax" style="top:794px;left:1627.6px">80</div>
<div class="ax" style="top:841px;left:1627.6px">50</div>
<div class="ax" style="top:897px;left:1627.6px">15</div>
<div class="ax" style="top:914px;left:1627.6px">0</div>
<div class="pl" style="top:285px;background:#ff0000">23542.1</div>
<div class="pl" style="top:327px;background:#ff0000">23444.8</div>
<div class="pl" style="top:373px;background:#000000">23337.5</div>
<div class="pl" style="top:405px;background:#32cd32">23263.9</div>
<div class="pl" style="top:443px;background:#0000ff">23175.8</div>
<div class="pl" style="top:480px;background:#0000ff">23090.0</div>
<div class="a" style="left:1619px;top:288px;width:3px;height:3px;border:1px solid #ff0000;background:#fff"></div><div class="a" style="left:1619px;top:330px;width:3px;height:3px;border:1px solid #ff0000;background:#fff"></div><div class="a" style="left:1619px;top:408px;width:3px;height:3px;border:1px solid #32cd32;background:#fff"></div><div class="a" style="left:1619px;top:446px;width:3px;height:3px;border:1px solid #0000ff;background:#fff"></div><div class="a" style="left:1619px;top:483px;width:3px;height:3px;border:1px solid #0000ff;background:#fff"></div>
<div class="a" style="left:1477px;top:410px;width:8px;height:1px;background:#ff0000"></div>
<div class="a" style="left:1484px;top:409px;width:2px;height:2px;border:1px solid #ff0000;box-sizing:content-box;background:#fff"></div>
<div class="a" style="left:1487px;top:394px;width:98px;height:31px;border:1px solid #ff0000;background:#fff;color:#ff0000;font-size:26.5px;line-height:31px;text-align:center">23263.9</div>
<svg class="a" style="left:1404.2px;top:449.6px" width="175" height="40" viewBox="0 -30 175 40"><text transform="translate(1.2,1.2)" x="2" y="1" font-size="33" font-weight="bold" fill="#102000" style="font-family:'Liberation Serif','Noto Serif CJK SC',serif">多空转折点</text><text x="2" y="1" font-size="33" font-weight="bold" fill="#00ff00" style="font-family:'Liberation Serif','Noto Serif CJK SC',serif">多空转折点</text></svg>
<div class="tl" style="left:-5px">19 Dec 2019</div>
<div class="tl" style="left:59px">20 Dec 18:55</div>
<div class="tl" style="left:123px">24 Dec 00:00</div>
<div class="tl" style="left:187px">25 Dec 10:55</div>
<div class="tl" style="left:251px">26 Dec 18:55</div>
<div class="tl" style="left:315px">30 Dec 00:00</div>
<div class="tl" style="left:379px">31 Dec 10:55</div>
<div class="tl" style="left:443px">2 Jan 18:55</div>
<div class="tl" style="left:507px">6 Jan 00:00</div>
<div class="tl" style="left:571px">7 Jan 10:55</div>
<div class="tl" style="left:635px">8 Jan 18:55</div>
<div class="tl" style="left:699px">10 Jan 00:00</div>
<div class="tl" style="left:763px">13 Jan 10:55</div>
<div class="tl" style="left:827px">14 Jan 18:55</div>
<div class="tl" style="left:891px">16 Jan 00:00</div>
<div class="tl" style="left:955px">17 Jan 10:55</div>
<div class="tl" style="left:1019px">20 Jan 18:55</div>
<div class="tl" style="left:1083px">22 Jan 00:00</div>
<div class="tl" style="left:1147px">23 Jan 10:55</div>
<div class="tl" style="left:1211px">24 Jan 18:55</div>
<div class="tl" style="left:1275px">28 Jan 00:00</div>
<div class="a" style="left:0;top:946px;width:1668px;height:2px;background:#e4e4e4"></div>
<div class="a" style="left:1px;top:586px;font-size:9.3px">MACD(12,26,9) -162.04 -184.61</div>
<div class="a" style="left:1px;top:771px;font-size:9.15px">RSI(14) 44.8821</div>
<div class="a" style="left:11px;top:31px;font-size:9.23px">JPN225-,H4&nbsp; 23302.5 23342.5 23302.5 23337.5</div>
<div class="a" style="left:0px;top:33px;width:0;height:0;border-left:3px solid transparent;border-right:3px solid transparent;border-bottom:4px solid #000"></div>

<div class="a" style="left:0;top:46px;width:218px;height:64px;background:#fff"></div>
<div class="a" style="left:0;top:46px;width:50px;height:25px;background:linear-gradient(#f25050,#e03a3a)"></div>
<div class="a" style="left:166px;top:46px;width:52px;height:25px;background:linear-gradient(#f25050,#e03a3a)"></div>
<div class="a" style="left:0;top:70px;width:108px;height:40px;background:linear-gradient(#dc3434,#c01818 50%,#ae0000)"></div>
<div class="a" style="left:110px;top:70px;width:108px;height:40px;background:linear-gradient(#dc3434,#c01818 50%,#ae0000)"></div>
<div class="a" style="left:3px;top:69px;width:44px;height:1px;background:#f7a0a0"></div>
<div class="a" style="left:170px;top:69px;width:44px;height:1px;background:#f7a0a0"></div>
<div class="a" style="left:11px;top:52px;font-size:12px;color:#fff;transform:scaleX(0.88);transform-origin:0 0">SELL</div>
<div class="a" style="left:179.5px;top:52px;font-size:12px;color:#fff;transform:scaleX(0.94);transform-origin:0 0">BUY</div>
<div class="a" style="left:53px;top:46px;width:111px;height:21px;box-sizing:border-box;border:1px solid #b4b4b4;background:#fff"></div>
<div class="a" style="left:54px;top:47px;width:20px;height:19px;background:#e8e8e8;border-right:1px solid #c4c4c4"></div>
<div class="a" style="left:142px;top:47px;width:21px;height:19px;background:#e8e8e8;border-left:1px solid #c4c4c4"></div>
<div class="a" style="left:61px;top:55px;width:0;height:0;border-left:3px solid transparent;border-right:3px solid transparent;border-top:3px solid #000"></div>
<div class="a" style="left:150px;top:55px;width:0;height:0;border-left:3px solid transparent;border-right:3px solid transparent;border-bottom:3px solid #000"></div>
<div class="a" style="left:80px;top:51px;width:59px;text-align:right;font-size:12px;color:#222">1.00</div>
<div class="a" style="left:15.2px;top:91px;font-size:10.8px;font-weight:bold;color:#fff;transform:scaleX(1.15);transform-origin:0 0">23336</div>
<div class="a" style="left:52.6px;top:73.6px;font-size:32.4px;color:#fff;letter-spacing:-1px;transform:scaleX(0.955);transform-origin:0 0">.0</div>
<div class="a" style="left:124.9px;top:91px;font-size:10.8px;font-weight:bold;color:#fff;transform:scaleX(1.15);transform-origin:0 0">23359</div>
<div class="a" style="left:163.6px;top:73.6px;font-size:32.4px;color:#fff;letter-spacing:-1px;transform:scaleX(0.955);transform-origin:0 0">.0</div>

<div id="tb"></div>
<div class="a" style="left:0;top:22px;width:1668px;height:1px;background:#a8a8a8"></div><div class="a" style="left:0;top:23px;width:1668px;height:1px;background:#6a6a6a"></div>
<svg class="a" style="left:0;top:0" width="1668" height="24" viewBox="0 0 1668 24">
<defs><linearGradient id="gg" x1="0" y1="0" x2="0" y2="1"><stop offset="0" stop-color="#6be86b"/><stop offset="1" stop-color="#12b012"/></linearGradient><linearGradient id="gold" x1="0" y1="0" x2="1" y2="1"><stop offset="0" stop-color="#fbe27a"/><stop offset="0.6" stop-color="#e0aa1c"/><stop offset="1" stop-color="#a86c0c"/></linearGradient><linearGradient id="blu" x1="0" y1="0" x2="1" y2="0"><stop offset="0" stop-color="#1a7ef0"/><stop offset="1" stop-color="#7cc8ff"/></linearGradient><linearGradient id="cl" x1="0" y1="0" x2="0" y2="1"><stop offset="0" stop-color="#ffffff"/><stop offset="1" stop-color="#b8cdee"/></linearGradient><linearGradient id="lens" x1="0" y1="0" x2="0" y2="1"><stop offset="0" stop-color="#f4fbff"/><stop offset="1" stop-color="#b4dcf4"/></linearGradient><linearGradient id="clk" x1="0" y1="0" x2="0" y2="1"><stop offset="0" stop-color="#4aa0ff"/><stop offset="1" stop-color="#0a48c0"/></linearGradient><linearGradient id="hat" x1="0" y1="0" x2="0" y2="1"><stop offset="0" stop-color="#8ad0f0"/><stop offset="1" stop-color="#2c86c8"/></linearGradient><linearGradient id="yel" x1="0" y1="0" x2="0" y2="1"><stop offset="0" stop-color="#fff0a0"/><stop offset="1" stop-color="#e8b820"/></linearGradient><pattern id="chk" width="2" height="2" patternUnits="userSpaceOnUse"><rect width="2" height="2" fill="#f8f8f8"/><rect width="1" height="1" fill="#ececec"/><rect x="1" y="1" width="1" height="1" fill="#ececec"/></pattern></defs>
<rect x="260" y="0" width="24" height="21" fill="url(#chk)"/>
<rect x="412" y="0" width="24" height="21" fill="url(#chk)"/>
<rect x="440" y="0" width="24" height="21" fill="url(#chk)"/>
<rect x="600" y="0" width="24" height="21" fill="url(#chk)"/>
<rect x="1047" y="0" width="24" height="21" fill="url(#chk)"/>
<path d="M221.5 1V21M316.5 1V21M406.5 1V21M411.5 1V21M439.5 1V21M468.5 1V21M589.5 1V21M599.5 1V21M656.5 1V21M895.5 1V21M1045.5 1V21M1156.5 1V21" stroke="#a0a0a0" stroke-width="1" fill="none"/>
<path d="M222.5 1V21M590.5 1V21M896.5 1V21" stroke="#ffffff" stroke-width="1" fill="none"/>
<path d="M225 1h3v1h-3zM225 3h3v1h-3zM225 5h3v1h-3zM225 7h3v1h-3zM225 9h3v1h-3zM225 11h3v1h-3zM225 13h3v1h-3zM225 15h3v1h-3zM225 17h3v1h-3zM225 19h3v1h-3zM593 1h3v1h-3zM593 3h3v1h-3zM593 5h3v1h-3zM593 7h3v1h-3zM593 9h3v1h-3zM593 11h3v1h-3zM593 13h3v1h-3zM593 15h3v1h-3zM593 17h3v1h-3zM593 19h3v1h-3zM899 1h3v1h-3zM899 3h3v1h-3zM899 5h3v1h-3zM899 7h3v1h-3zM899 9h3v1h-3zM899 11h3v1h-3zM899 13h3v1h-3zM899 15h3v1h-3zM899 17h3v1h-3zM899 19h3v1h-3z" fill="#a6a6a6"/>
<path d="M-2 2.5H4.5L7.5 5.5V13H-2z" fill="#fff" stroke="#9a9a9a" stroke-width="0.8"/><path d="M4.5 2.5V5.5H7.5" fill="#e8e8e8" stroke="#9a9a9a" stroke-width="0.6"/><path d="M0 8h4M0 10h4" stroke="#b0b0b0" stroke-width="0.8"/>
<path d="M3.3 8.6h3.9v4.400h3.6v3.400H7.200v3.400H3.300v-3.400H-1v-3.400h4.300z" fill="url(#gg)" stroke="#0c8c0c" stroke-width="0.8"/>
<text x="14" y="13.2" font-size="12" fill="#000" style="font-family:'Liberation Sans','Noto Sans CJK SC',sans-serif">新订单</text>
<path d="M62.400 12.600 70.200 18.400 77.800 11.800 77.600 10.400 70.200 16.800 62.300 11.300z" fill="#8a5810"/><path d="M67.400 3 77.600 10.600 70.200 17.200 62.200 11.600z" fill="url(#gold)" stroke="#a87014" stroke-width="0.700"/><path d="M67.200 4.200 63.600 11.400 70 16" stroke="#fff2b0" stroke-width="0.900" fill="none" stroke-opacity="0.8"/>
<path d="M92.2 3.5 96 2.4 103.4 3.2V12H92.2z" fill="url(#blu)" stroke="#1c6ad0" stroke-width="0.6"/><path d="M96 2.4V12" stroke="#bfe4ff" stroke-width="0.7"/><rect x="97.5" y="5.5" width="4.2" height="1.6" fill="#dff2ff"/>
<path d="M93.2 17.4a2.8 2.8 0 0 1-.4-5.5 3.4 3.4 0 0 1 6-1.1 2.7 2.7 0 0 1 4.2 1.4 2.7 2.7 0 0 1-.4 5.2z" fill="url(#cl)" stroke="#5a84c8" stroke-width="0.9"/>
<g fill="none" stroke-linecap="round"><path d="M125.800 17.200A7.400 7.400 0 0 0 133 8.200L125.800 9.600z" fill="#8fd08f" fill-opacity="0.6" stroke="none"/><path d="M125.800 2.400a7.200 7.200 0 0 0-3.200 13.600" stroke="#7d9fe0" stroke-width="1.200"/><path d="M125.800 2.400a7.200 7.200 0 0 1 7.100 8.400" stroke="#a9c0ea" stroke-width="1.100"/><path d="M132.900 10.800a7.200 7.200 0 0 1-5.400 5.800" stroke="#6fb47a" stroke-width="1.200"/><path d="M125.800 5a4.600 4.600 0 0 0-2 8.700" stroke="#4f83dc" stroke-width="1.300"/><path d="M125.800 5a4.600 4.600 0 0 1 4.500 5.600" stroke="#86a8e6" stroke-width="1.200"/><path d="M130.300 10.600a4.600 4.600 0 0 1-2.700 3.200" stroke="#5aa868" stroke-width="1.200"/><path d="M126.200 10V17.200" stroke="#1fa01f" stroke-width="1.500"/></g><circle cx="125.800" cy="9.300" r="1.700" fill="#2a5fd4"/>
<path d="M146 10.2 159.8 9.6 157 14 152.6 17.6 148.6 14.4z" fill="url(#yel)" stroke="#c89818" stroke-width="0.6"/><ellipse cx="152.8" cy="7.6" rx="7.6" ry="2.8" fill="url(#hat)" stroke="#2878b8" stroke-width="0.5"/><ellipse cx="152.8" cy="5.4" rx="3.8" ry="3" fill="url(#hat)"/><circle cx="157.6" cy="13.6" r="4.1" fill="#e02010" stroke="#b01808" stroke-width="0.5"/><rect x="155.9" y="11.9" width="3.4" height="3.4" fill="#fff"/>
<text x="167" y="13.2" font-size="12" fill="#000" style="font-family:'Liberation Sans','Noto Sans CJK SC',sans-serif">自动交易</text>
<path d="M239.6 5V17.6M237.0 15.5H250.0" stroke="#484848" stroke-width="1.2" fill="none"/><path d="M239.6 3.6l-2.2 3h4.4zM252.0 15.5l-3-2.2v4.4z" fill="#484848"/>
<path d="M245.6 5.6V13.4M245.6 6.4h2.6M243 12.6h2.6" stroke="#0e8c0e" stroke-width="1.3" fill="none"/>
<path d="M267.4 5V17.6M264.79999999999995 15.5H277.79999999999995" stroke="#484848" stroke-width="1.2" fill="none"/><path d="M267.4 3.6l-2.2 3h4.4zM279.79999999999995 15.5l-3-2.2v4.4z" fill="#484848"/>
<path d="M273.4 2.2V13.8" stroke="#0e8c0e" stroke-width="1.2"/><rect x="271.3" y="4.8" width="4.3" height="7" fill="url(#gg)" stroke="#0e8c0e" stroke-width="0.8"/>
<path d="M295.3 5V17.6M292.7 15.5H305.7" stroke="#484848" stroke-width="1.2" fill="none"/><path d="M295.3 3.6l-2.2 3h4.4zM307.7 15.5l-3-2.2v4.4z" fill="#484848"/>
<path d="M294.4 12.6C297 10.5 298.5 7 300.2 7S303.5 10 305.8 11.2" stroke="#2a9a2a" stroke-width="1.2" fill="none"/>
<path d="M334.8 11.6l5.6 5.2" stroke="#8a6a10" stroke-width="3" stroke-linecap="round"/><path d="M335.09999999999997 11.9l5 4.6" stroke="#f0cc40" stroke-width="1.7" stroke-linecap="round"/><circle cx="331.2" cy="7.6" r="5.4" fill="url(#lens)" stroke="#3c7cd0" stroke-width="1.3"/><path d="M328.4 7.6h5.6" stroke="#3f8fb8" stroke-width="1.7"/><path d="M331.2 4.8v5.6" stroke="#3f8fb8" stroke-width="1.7"/>
<path d="M362.6 11.6l5.6 5.2" stroke="#8a6a10" stroke-width="3" stroke-linecap="round"/><path d="M362.9 11.9l5 4.6" stroke="#f0cc40" stroke-width="1.7" stroke-linecap="round"/><circle cx="359" cy="7.6" r="5.4" fill="url(#lens)" stroke="#3c7cd0" stroke-width="1.3"/><path d="M356.2 7.6h5.6" stroke="#3f8fb8" stroke-width="1.7"/>
<rect x="381" y="2.2" width="8" height="7.6" fill="#3fa31f"/><rect x="382" y="5.2" width="6" height="3.8" fill="#fff"/><rect x="383" y="6.4" width="4" height="1" fill="#9fd68a"/>
<rect x="389.2" y="2.2" width="8" height="7.6" fill="#2356d6"/><rect x="390.2" y="5.2" width="6" height="3.8" fill="#fff"/><rect x="391.2" y="6.4" width="4" height="1" fill="#9db8f0"/>
<rect x="381" y="10" width="8" height="7.6" fill="#2356d6"/><rect x="382" y="13" width="6" height="3.8" fill="#fff"/><rect x="383" y="14.2" width="4" height="1" fill="#9db8f0"/>
<rect x="389.2" y="10" width="8" height="7.6" fill="#3fa31f"/><rect x="390.2" y="13" width="6" height="3.8" fill="#fff"/><rect x="391.2" y="14.2" width="4" height="1" fill="#9fd68a"/>
<path d="M419.5 5V17.6M416.9 15.5H429.9" stroke="#484848" stroke-width="1.2" fill="none"/><path d="M419.5 3.6l-2.2 3h4.4zM431.9 15.5l-3-2.2v4.4z" fill="#484848"/>
<path d="M424.2 6.2 428 9.5 424.2 12.8z" fill="#7be07b" stroke="#18a018" stroke-width="1"/>
<path d="M447.5 5V17.6M444.9 15.5H457.9" stroke="#484848" stroke-width="1.2" fill="none"/><path d="M447.5 3.6l-2.2 3h4.4zM459.9 15.5l-3-2.2v4.4z" fill="#484848"/>
<path d="M453.4 4V13.8" stroke="#1f6fa4" stroke-width="1.2"/><path d="M454.4 9.4l3-2.4-.6 1.8h2.4v1.2h-2.4l.6 1.8z" fill="#e4480c"/>
<path d="M478.6 2.8H486.5L489.8 6V15.4H478.6z" fill="#fdfdfd" stroke="#a0a0a0" stroke-width="0.8"/><path d="M486.5 2.8V6H489.8" fill="#e6e6e6" stroke="#a0a0a0" stroke-width="0.6"/><path d="M483.4 5.6c-1.4-.4-1.8.6-1.8 1.8v5.200M480.600 8.400h2.600" stroke="#5a5a40" stroke-width="0.8" fill="none"/>
<path d="M486.300 8.400h3.900v3.900h3.700v3.300h-3.700v3.800h-3.900v-3.800h-3.900v-3.300h3.900z" fill="url(#gg)" stroke="#0c8c0c" stroke-width="0.8"/>
<path d="M500 9h5.400l-2.700 3z" fill="#000"/>
<path d="M539 9h5.400l-2.700 3z" fill="#000"/>
<path d="M578.2 9h5.400l-2.700 3z" fill="#000"/>
<path d="M884 9h5.400l-2.700 3z" fill="#000"/>
<circle cx="524" cy="9.700" r="6.700" fill="#f6f8fb" stroke="url(#clk)" stroke-width="2.500"/><path d="M524 5.200V10h3.200" stroke="#333" stroke-width="1.100" fill="none"/><circle cx="524" cy="13.800" r="0.700" fill="#9ac8ff"/><path d="M520 7l.8.500M528 7l-.8.500M519.600 11.600l.8-.3M528.400 11.600l-.8-.3" stroke="#999" stroke-width="0.600"/>
<rect x="555.600" y="3.400" width="15" height="13.400" fill="#fff" stroke="#3a72d8" stroke-width="1"/><rect x="555.600" y="3.400" width="15" height="2.600" fill="#7fb0f0"/><path d="M556 11.200h14.500" stroke="#3a72d8" stroke-width="0.900"/><path d="M557.400 9.400h1.800l1.800-1.400h1.800l1.600-.8 1.600.8h1.600l1.400-.8" stroke="#a02810" stroke-width="1.100" fill="none"/><path d="M557.800 14.600h1.600l1.400-1 1.600 1 1.800-1 1.400-1.200 1.400 1.200 1.400 1.200" stroke="#18902a" stroke-width="1.100" fill="none"/>
<path d="M607.300 3.200 614.900 10.800 611.700 11.500 613.900 16.200 612.300 17.300 609.900 12.300 607.300 14.100z" fill="#505050"/>
<path d="M639.500 3.200V9.200M639.500 11.600V17.600M632 10.400H638M641 10.400H647" stroke="#404040" stroke-width="1.300" fill="none"/>
<path d="M673.500 4V17M696 10.400H708M723.800 16.900 736 4.700" stroke="#404040" stroke-width="1.300" fill="none"/>
<path d="M750.600 11.800 757.800 3.800M752 16.600 762.400 4.600M755.400 16.800 764.200 8.200" stroke="#505050" stroke-width="1" fill="none"/><path d="M752.400 14.200 753.600 9.600 755.400 12.600 756.800 7.200 758.600 10.400 760.200 5 761.400 2.400 761.800 7 763.400 8.600" stroke="#404040" stroke-width="0.900" fill="none"/><path d="M761.300 14.300h3.600M761.300 16.400h3.200M761.300 18.500h3.700M761.700 14v4.800" stroke="#303030" stroke-width="1.100" fill="none"/>
<path d="M779 3.400H792.400M779 6.600H792.400M779 10.500H792.400M779 14.600H788" stroke="#404040" stroke-width="1" stroke-dasharray="1 1" fill="none"/><path d="M789.400 14.200h3.800M789.400 16.400h3M789.900 14v4.900" stroke="#303030" stroke-width="1.200" fill="none"/>
<rect x="836.500" y="4.700" width="11" height="12" fill="none" stroke="#404040" stroke-width="1" stroke-dasharray="1 1"/><path d="M835.200 3.400l1.800.8" stroke="#404040" stroke-width="1"/><path d="M838.300 7.400h7.600M842.100 7.400V14.800" stroke="#505050" stroke-width="1.400" fill="none"/>
<path d="M866.200 3.800l3.400 3.200-3.400 1.200-3.400-1.200z" fill="#505050"/><path d="M873.400 16.800l3.400-3.200-3.400-1.200-3.400 1.200z" fill="#505050"/><path d="M865 11.400l2.400 2.200 4.600-5" stroke="#505050" stroke-width="1.200" fill="none"/>
<circle cx="1626.600" cy="7.800" r="3.900" fill="#f4f8ff" stroke="#2f66d0" stroke-width="1.500"/><path d="M1623.800 10.800l-4.600 4.600" stroke="#2f66d0" stroke-width="2.200" stroke-linecap="round"/>
<path d="M1655 3.200h6.500a4 4 0 0 1 0 8h-.8l.6 2.800-3.200-2.800h-3.100a4 4 0 0 1 0-8z" fill="#f6f6f6" stroke="#9a9a9a" stroke-width="0.900"/><path d="M1649 7.200h5.200a3.600 3.600 0 0 1 0 7.200h-2.600l-2.800 2.400.4-2.400h-.2a3.600 3.600 0 0 1 0-7.200z" fill="#fdfdfd" stroke="#8a8a8a" stroke-width="0.900"/>
</svg>
<div class="a" style="left:809px;top:4px;font-size:13px;color:#505050">A</div>
<div class="tf" style="left:910.8px">M1</div>
<div class="tf" style="left:938.5px">M5</div>
<div class="tf" style="left:964.5px">M15</div>
<div class="tf" style="left:992.7px">M30</div>
<div class="tf" style="left:1023.7px">H1</div>
<div class="tf" style="left:1050.6px">H4</div>
<div class="tf" style="left:1079.6px">D1</div>
<div class="tf" style="left:1107.3px">W1</div>
<div class="tf" style="left:1133.8px">MN</div>
</body></html>
